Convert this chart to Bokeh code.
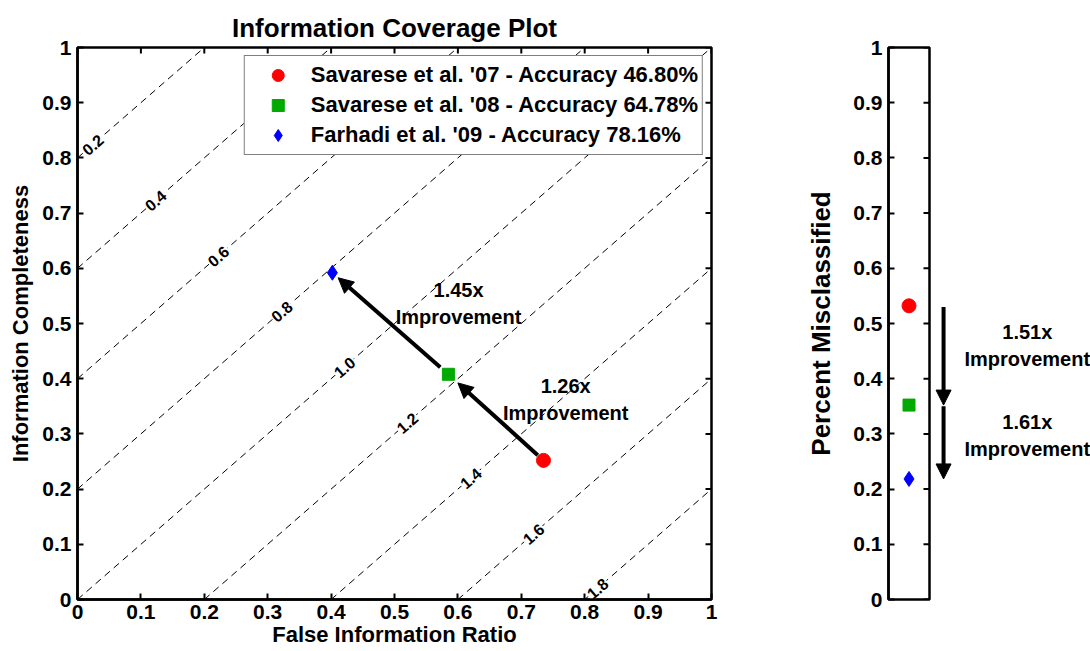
import math
from bokeh.plotting import figure
from bokeh.models import (Range1d, FixedTicker, Arrow, NormalHead,
                          Legend, LegendItem, Label)
from bokeh.layouts import row
from bokeh.embed import file_html
from bokeh.resources import INLINE
from bokeh.core.properties import value

FONT = "Liberation Sans"

# ---------------- data ----------------
methods = ["Savarese et al. '07", "Savarese et al. '08", "Farhadi et al. '09"]
accuracy = [46.80, 64.78, 78.16]                 # percent
false_info_ratio = [0.735, 0.585, 0.402]
info_completeness = [0.252, 0.408, 0.592]
misclassified = [round(1 - a / 100.0, 4) for a in accuracy]

colors = ["#ff0000", "#00aa00", "#0000ff"]
markers = ["circle", "square", "diamond"]
sizes = [14, 12, 15]

contour_levels = [0.2, 0.4, 0.6, 0.8, 1.0, 1.2, 1.4, 1.6, 1.8]
contour_label_x = [0.024, 0.123, 0.222, 0.322, 0.421, 0.520, 0.620, 0.719, 0.820]

left_improvements = ["1.26x", "1.45x"]
right_improvements = ["1.51x", "1.61x"]

ticks = [0, 0.1, 0.2, 0.3, 0.4, 0.5, 0.6, 0.7, 0.8, 0.9, 1]
tick_labels = ["0", "0.1", "0.2", "0.3", "0.4", "0.5", "0.6", "0.7", "0.8", "0.9", "1"]

# ---------------- layout constants ----------------
H = 651
TOP, BOTTOM = 47, 52
LW, LBL, LBR = 740, 77, 29
MW, MBL, MBR = 192, 148, 3
AW = 1090 - LW - MW
FRAME_W = LW - LBL - LBR
FRAME_H = H - TOP - BOTTOM
MFRAME_W = MW - MBL - MBR
TICK = 6


def style_axis(ax, tick_size="21px"):
    ax.ticker = FixedTicker(ticks=ticks)
    ax.major_label_overrides = dict(zip(ticks, tick_labels))
    ax.major_tick_in = TICK
    ax.major_tick_out = 0
    ax.minor_tick_line_color = None
    ax.axis_line_width = 2.5
    ax.axis_line_color = "black"
    ax.major_tick_line_width = 2
    ax.major_tick_line_color = "black"
    ax.major_label_text_font = FONT
    ax.major_label_text_font_style = "bold"
    ax.major_label_text_color = "black"
    ax.major_label_text_font_size = tick_size
    ax.major_label_standoff = 6
    ax.axis_label_text_font = FONT
    ax.axis_label_text_font_style = "bold"
    ax.axis_label_text_color = "black"


# ---------------- left: information coverage plot ----------------
p = figure(width=LW, height=H, x_range=Range1d(0, 1), y_range=Range1d(0, 1),
           output_backend="svg", toolbar_location=None,
           min_border_left=LBL, min_border_right=LBR,
           min_border_top=TOP, min_border_bottom=BOTTOM,
           title="Information Coverage Plot")
p.title.text_font = FONT
p.title.text_font_size = "26px"
p.title.text_font_style = "bold"
p.title.align = "center"
p.title.text_color = "black"
p.grid.visible = False
p.outline_line_color = "black"
p.outline_line_width = 2.5
p.background_fill_color = "white"
p.border_fill_color = "white"

style_axis(p.xaxis[0])
style_axis(p.yaxis[0])
p.xaxis[0].axis_label = "False Information Ratio"
p.yaxis[0].axis_label = "Information Completeness"
p.xaxis[0].axis_label_text_font_size = "22px"
p.yaxis[0].axis_label_text_font_size = "22px"
p.xaxis[0].major_label_standoff = 5
p.xaxis[0].axis_label_standoff = 0
p.yaxis[0].axis_label_standoff = 6

# inward ticks on the top and right edges (MATLAB box style)
p.segment(x0=ticks, y0=[1.0] * len(ticks), x1=ticks,
          y1=[1.0 - TICK / FRAME_H] * len(ticks), line_color="black", line_width=2)
p.segment(x0=[1.0] * len(ticks), y0=ticks, x1=[1.0 - TICK / FRAME_W] * len(ticks),
          y1=ticks, line_color="black", line_width=2)

# iso-lines of (FIR - IC + 1)
cx0 = [max(0.0, c - 1.0) for c in contour_levels]
cy0 = [x + 1.0 - c for x, c in zip(cx0, contour_levels)]
cx1 = [min(1.0, c) for c in contour_levels]
cy1 = [x + 1.0 - c for x, c in zip(cx1, contour_levels)]
p.segment(x0=cx0, y0=cy0, x1=cx1, y1=cy1, line_color="black",
          line_width=1, line_dash="7 5")

angle = math.atan2(FRAME_H, FRAME_W)
lbl_y = [x + 1.0 - c for x, c in zip(contour_label_x, contour_levels)]
p.text(x=contour_label_x, y=lbl_y, text=[f"{c:.1f}" for c in contour_levels],
       angle=angle, text_font=value(FONT), text_font_style="bold",
       text_font_size="16px", text_align="center", text_baseline="middle",
       text_color="black", background_fill_color="white", padding=1)

# arrows between methods (drawn along the segment joining successive points)
arrow_fracs = [(0.06, 0.90), (0.07, 0.95)]
for i, (f0, f1) in enumerate(arrow_fracs):
    ax0, ay0 = false_info_ratio[i], info_completeness[i]
    ax1, ay1 = false_info_ratio[i + 1], info_completeness[i + 1]
    p.add_layout(Arrow(end=NormalHead(size=15, fill_color="black", line_color="black"),
                       x_start=ax0 + f0 * (ax1 - ax0), y_start=ay0 + f0 * (ay1 - ay0),
                       x_end=ax0 + f1 * (ax1 - ax0), y_end=ay0 + f1 * (ay1 - ay0),
                       line_width=4, line_color="black"))

renderers = []
for i in range(3):
    r = p.scatter(x=[false_info_ratio[i]], y=[info_completeness[i]], marker=markers[i],
                  size=sizes[i], fill_color=colors[i], line_color=colors[i])
    renderers.append(r)

left_text_pos = [(0.770, 0.362), (0.601, 0.536)]
for txt, (tx, ty) in zip(left_improvements, left_text_pos):
    p.add_layout(Label(x=tx, y=ty, text=f"{txt}\nImprovement", text_font=FONT,
                       text_font_style="bold", text_font_size="20px",
                       text_align="center", text_baseline="middle", text_color="black"))

legend = Legend(items=[LegendItem(label=f"{m} - Accuracy {a:.2f}%", renderers=[r])
                       for m, a, r in zip(methods, accuracy, renderers)],
                location="top_right")
legend.label_text_font = FONT
legend.label_text_font_style = "bold"
legend.label_text_font_size = "22px"
legend.label_text_color = "black"
legend.glyph_height = 30
legend.glyph_width = 58
legend.label_height = 24
legend.label_standoff = 4
legend.spacing = -2
legend.padding = 4
legend.margin = 8
legend.border_line_color = "black"
legend.border_line_width = 1.5
legend.background_fill_color = "white"
legend.background_fill_alpha = 1.0
p.add_layout(legend)

# ---------------- middle: percent misclassified ----------------
m = figure(width=MW, height=H, x_range=Range1d(0, 1), y_range=Range1d(0, 1),
           output_backend="svg", toolbar_location=None, x_axis_location=None,
           min_border_left=MBL, min_border_right=MBR,
           min_border_top=TOP, min_border_bottom=BOTTOM)
m.grid.visible = False
m.outline_line_color = "black"
m.outline_line_width = 2.5
style_axis(m.yaxis[0])
m.yaxis[0].axis_label = "Percent Misclassified"
m.yaxis[0].axis_label_text_font_size = "26px"
m.yaxis[0].axis_label_standoff = 14
m.segment(x0=[1.0] * len(ticks), y0=ticks, x1=[1.0 - TICK / MFRAME_W] * len(ticks),
          y1=ticks, line_color="black", line_width=2)
for i in range(3):
    m.scatter(x=[0.5], y=[misclassified[i]], marker=markers[i], size=sizes[i],
              fill_color=colors[i], line_color=colors[i])

# ---------------- right: improvement arrows ----------------
a = figure(width=AW, height=H, x_range=Range1d(0, 1), y_range=Range1d(0, 1),
           output_backend="svg", toolbar_location=None,
           x_axis_location=None, y_axis_location=None,
           min_border_left=0, min_border_right=0,
           min_border_top=TOP, min_border_bottom=BOTTOM)
a.grid.visible = False
a.outline_line_color = None
ARROW_X = 0.07
for i in range(2):
    a.add_layout(Arrow(end=NormalHead(size=15, fill_color="black", line_color="black"),
                       x_start=ARROW_X, y_start=misclassified[i] - 0.002,
                       x_end=ARROW_X, y_end=misclassified[i + 1],
                       line_width=4, line_color="black"))
right_text_y = [0.460, 0.297]
for txt, ty in zip(right_improvements, right_text_y):
    a.add_layout(Label(x=0.60, y=ty, text=f"{txt}\nImprovement", text_font=FONT,
                       text_font_style="bold", text_font_size="20px",
                       text_align="center", text_baseline="middle", text_color="black"))

layout = row(p, m, a)
open("out.html", "w").write(file_html(layout, INLINE))
